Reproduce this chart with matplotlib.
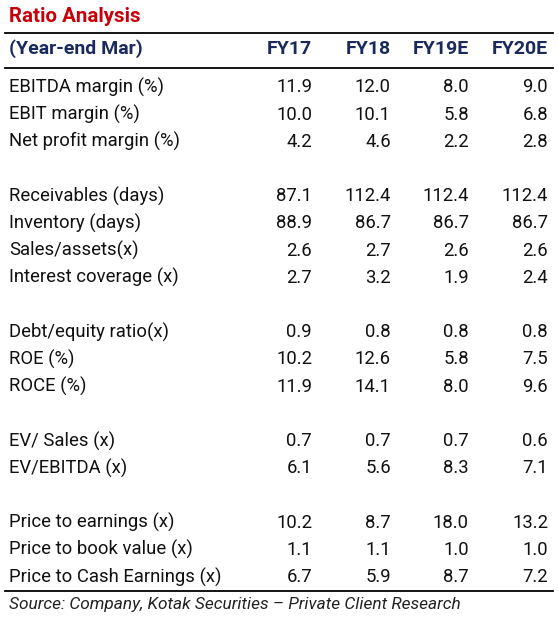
import matplotlib
matplotlib.use("Agg")
import matplotlib.pyplot as plt

plt.rcParams['font.family'] = ['Roboto', 'DejaVu Sans']

title = 'Ratio Analysis'
header_label = '(Year-end Mar)'
years = ['FY17', 'FY18', 'FY19E', 'FY20E']

# None marks a blank spacer row
labels = ['EBITDA margin (%)', 'EBIT margin (%)', 'Net profit margin (%)', None,
          'Receivables (days)', 'Inventory (days)', 'Sales/assets(x)',
          'Interest coverage (x)', None,
          'Debt/equity ratio(x)', 'ROE (%)', 'ROCE (%)', None,
          'EV/ Sales (x)', 'EV/EBITDA (x)', None,
          'Price to earnings (x)', 'Price to book value (x)',
          'Price to Cash Earnings (x)']
fy17 = [11.9, 10.0, 4.2, None, 87.1, 88.9, 2.6, 2.7, None,
        0.9, 10.2, 11.9, None, 0.7, 6.1, None, 10.2, 1.1, 6.7]
fy18 = [12.0, 10.1, 4.6, None, 112.4, 86.7, 2.7, 3.2, None,
        0.8, 12.6, 14.1, None, 0.7, 5.6, None, 8.7, 1.1, 5.9]
fy19e = [8.0, 5.8, 2.2, None, 112.4, 86.7, 2.6, 1.9, None,
         0.8, 5.8, 8.0, None, 0.7, 8.3, None, 18.0, 1.0, 8.7]
fy20e = [9.0, 6.8, 2.8, None, 112.4, 86.7, 2.6, 2.4, None,
         0.8, 7.5, 9.6, None, 0.6, 7.1, None, 13.2, 1.0, 7.2]
source = 'Source: Company, Kotak Securities \u2013 Private Client Research'

RED = '#c8000a'
NAVY = '#1b2a5c'
TXT = '#111111'

W, H = 558, 621
fig = plt.figure(figsize=(W / 100, H / 100), dpi=100)
ax = fig.add_axes([0, 0, 1, 1])
ax.set_xlim(0, W)
ax.set_ylim(H, 0)
ax.axis('off')

col_right = [312, 391, 469, 548]
row0, step = 87.5, 27.2

ax.text(9, 16, title, color=RED, fontsize=14.8, fontweight='bold',
        va='center', ha='left')
ax.plot([5, 553], [32.5, 32.5], color='black', lw=1.3)
ax.text(9, 49, header_label, color=NAVY, fontsize=14, fontweight='bold',
        va='center', ha='left')
for x, yr in zip(col_right, years):
    ax.text(x, 49, yr, color=NAVY, fontsize=14, fontweight='bold',
            va='center', ha='right')
ax.plot([5, 553], [68, 68], color='black', lw=1.3)

for i, lab in enumerate(labels):
    if lab is None:
        continue
    y = row0 + i * step
    ax.text(9, y, lab, color=TXT, fontsize=13.3, va='center', ha='left')
    for x, series in zip(col_right, [fy17, fy18, fy19e, fy20e]):
        ax.text(x, y, f'{series[i]:.1f}', color=TXT, fontsize=13.3,
                va='center', ha='right')

ax.plot([5, 553], [591, 591], color='black', lw=1.3)
ax.text(9, 605, source, color='#222222', fontsize=12.4, style='italic',
        va='center', ha='left')

fig.savefig('out.png', dpi=100, facecolor='white')
